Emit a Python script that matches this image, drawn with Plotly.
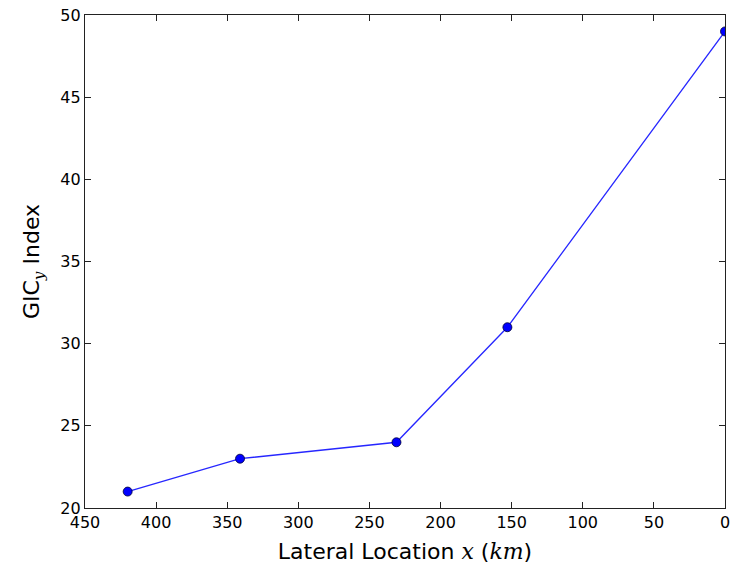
import plotly.graph_objects as go

# Lateral position (km) and GIC_y index at each station
location_km = [420, 341, 231, 153, 0]
gic_index = [21, 23, 24, 31, 49]

x_ticks = [450, 400, 350, 300, 250, 200, 150, 100, 50, 0]
y_ticks = [20, 25, 30, 35, 40, 45, 50]

MATH = "font-family:'DejaVu Serif';font-style:italic"

fig = go.Figure()
fig.add_trace(go.Scatter(
    x=location_km,
    y=gic_index,
    mode="lines+markers",
    line=dict(color="rgba(0,0,255,0.85)", width=1.3),
    marker=dict(color="#0000ff", size=9, line=dict(color="#000033", width=0.8)),
    cliponaxis=True,
    showlegend=False,
))

axis_common = dict(
    showline=True,
    linecolor="#222",
    linewidth=1.2,
    mirror="ticks",
    ticks="inside",
    ticklen=6,
    tickwidth=1,
    tickcolor="#222",
    showgrid=False,
    zeroline=False,
    automargin=False,
    tickfont=dict(family="DejaVu Sans", size=16, color="black"),
    title_font=dict(family="DejaVu Sans", size=22, color="black"),
)

fig.update_xaxes(
    range=[450, 0],
    tickvals=x_ticks,
    title_text=f"Lateral Location <span style=\"{MATH}\">x</span> (<span style=\"{MATH}\">km</span>)",
    title_standoff=12,
    **axis_common,
)
fig.update_yaxes(
    range=[20, 50],
    tickvals=y_ticks,
    title_text=f"GIC<sub><span style=\"{MATH}\">y</span></sub> Index",
    title_standoff=14,
    **axis_common,
)

fig.update_layout(
    width=737,
    height=565,
    margin=dict(l=85, r=12, t=15, b=57),
    paper_bgcolor="white",
    plot_bgcolor="white",
    font=dict(family="DejaVu Sans"),
)

fig.write_html("out.html")
